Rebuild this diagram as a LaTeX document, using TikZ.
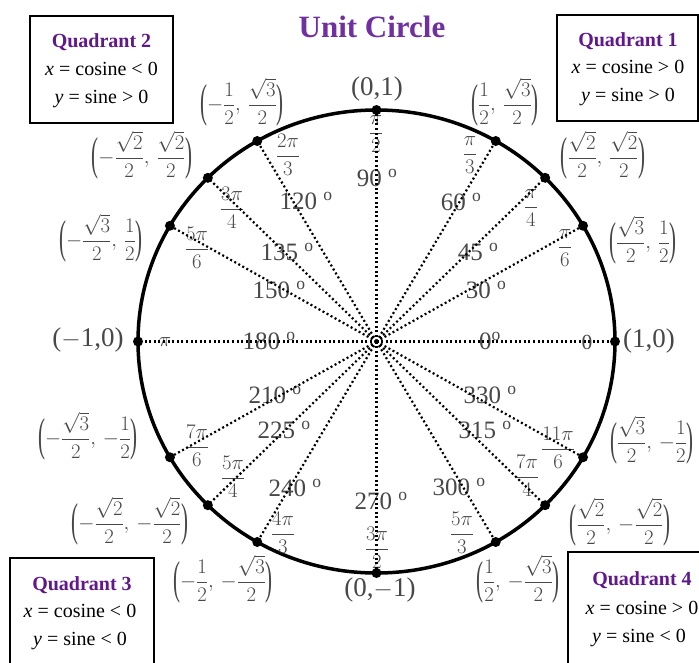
\documentclass[tikz,border=0pt]{standalone}
\usepackage{amsmath}
\usepackage{graphicx}
\usepackage{fontspec}
\setmainfont{Liberation Serif}
\definecolor{labgray}{RGB}{72,72,72}
\definecolor{titlepurple}{RGB}{112,48,160}
\definecolor{quadpurple}{RGB}{96,24,140}
\newcommand\tallparL{\mathopen{\vcenter{\hbox{\scalebox{0.95}[2.1]{(}}}}}
\newcommand\tallparR{\mathclose{\vcenter{\hbox{\scalebox{0.95}[2.1]{)}}}}}
\newcommand\cpair[2]{$\displaystyle\tallparL#1,\,#2\tallparR$}
\begin{document}
\begin{tikzpicture}[x=1pt,y=-1pt,
  coordlbl/.style={text=labgray,font=\fontsize{22}{26}\selectfont,inner sep=0pt},
  coordbig/.style={text=labgray,font=\fontsize{27}{30}\selectfont,inner sep=0pt},
  deglbl/.style={text=labgray,font=\fontsize{25}{28}\selectfont,inner sep=0pt},
  radlbl/.style={text=labgray,font=\fontsize{21.5}{24}\selectfont,inner sep=0pt},
  ptdot/.style={circle,fill=black,inner sep=0pt,minimum size=10pt},
  ray/.style={line width=2.2pt,dash pattern=on 2pt off 2.6pt},
  qbox/.style={line width=1.8pt},
  qtitle/.style={text=quadpurple,font=\fontsize{20}{24}\selectfont\bfseries,anchor=base,inner sep=0pt},
  qtext/.style={text=black,font=\fontsize{20}{24}\selectfont,anchor=base,inner sep=0pt}]
\useasboundingbox (0,0) rectangle (699,662);
\fill[white] (0,0) rectangle (699,662);

% title
\node[text=titlepurple,font=\fontsize{31}{36}\selectfont\bfseries,anchor=base,inner sep=0pt] (title) at (372,37) {Unit Circle};

% circle
\coordinate (O) at (376.5,341.5);
\draw[line width=3.5pt] (O) ellipse [x radius=238.5pt, y radius=231.5pt];

% coordinate labels
\node[coordbig] (c90) at (377,89) {(0,1)};
\node[coordlbl] (c60) at (505,102) {\cpair{\frac{1}{2}}{\frac{\sqrt{3}}{2}}};
\node[coordlbl] (c45) at (603,155) {\cpair{\frac{\sqrt{2}}{2}}{\frac{\sqrt{2}}{2}}};
\node[coordlbl] (c30) at (643,240) {\cpair{\frac{\sqrt{3}}{2}}{\frac{1}{2}}};
\node[coordbig] (c0) at (649,341) {(1,0)};
\node[coordlbl] (c330) at (652,440) {\cpair{\frac{\sqrt{3}}{2}}{-\frac{1}{2}}};
\node[coordlbl] (c315) at (620,522) {\cpair{\frac{\sqrt{2}}{2}}{-\frac{\sqrt{2}}{2}}};
\node[coordlbl] (c300) at (518,579) {\cpair{\frac{1}{2}}{-\frac{\sqrt{3}}{2}}};
\node[coordbig] (c270) at (380,590) {(0,$-$1)};
\node[coordlbl] (c240) at (223,579) {\cpair{-\frac{1}{2}}{-\frac{\sqrt{3}}{2}}};
\node[coordlbl] (c225) at (130,521) {\cpair{-\frac{\sqrt{2}}{2}}{-\frac{\sqrt{2}}{2}}};
\node[coordlbl] (c210) at (88,436) {\cpair{-\frac{\sqrt{3}}{2}}{-\frac{1}{2}}};
\node[coordbig] (c180) at (88,340) {($-$1,0)};
\node[coordlbl] (c150) at (101,238) {\cpair{-\frac{\sqrt{3}}{2}}{\frac{1}{2}}};
\node[coordlbl] (c135) at (142,155) {\cpair{-\frac{\sqrt{2}}{2}}{\frac{\sqrt{2}}{2}}};
\node[coordlbl] (c120) at (242,102) {\cpair{-\frac{1}{2}}{\frac{\sqrt{3}}{2}}};

% degree labels
\node[deglbl] (d0) at (490,341) {0$^{\mathrm{o}}$};
\node[deglbl] (d30) at (486,290) {30 $^{\mathrm{o}}$};
\node[deglbl] (d45) at (478,252) {45 $^{\mathrm{o}}$};
\node[deglbl] (d60) at (461,202) {60 $^{\mathrm{o}}$};
\node[deglbl] (d90) at (377,178) {90 $^{\mathrm{o}}$};
\node[deglbl] (d120) at (306,201) {120 $^{\mathrm{o}}$};
\node[deglbl] (d135) at (287,252) {135 $^{\mathrm{o}}$};
\node[deglbl] (d150) at (279,290) {150 $^{\mathrm{o}}$};
\node[deglbl] (d180) at (269,341) {180 $^{\mathrm{o}}$};
\node[deglbl] (d210) at (275,395) {210 $^{\mathrm{o}}$};
\node[deglbl] (d225) at (284,430) {225 $^{\mathrm{o}}$};
\node[deglbl] (d240) at (295,488) {240 $^{\mathrm{o}}$};
\node[deglbl] (d270) at (381,501) {270 $^{\mathrm{o}}$};
\node[deglbl] (d300) at (459,487) {300 $^{\mathrm{o}}$};
\node[deglbl] (d315) at (485,430) {315 $^{\mathrm{o}}$};
\node[deglbl] (d330) at (490,395) {330 $^{\mathrm{o}}$};

% radian labels
\node[radlbl] (r0) at (587,342) {0};
\node[radlbl] (r30) at (565,248) {$\displaystyle\frac{\pi}{6}$};
\node[radlbl] (r45) at (531,208) {$\displaystyle\frac{\pi}{4}$};
\node[radlbl] (r60) at (470,155) {$\displaystyle\frac{\pi}{3}$};
\node[radlbl] (r90) at (376,134) {$\displaystyle\frac{\pi}{2}$};
\node[radlbl] (r120) at (288,155) {$\displaystyle\frac{2\pi}{3}$};
\node[radlbl] (r135) at (232,208) {$\displaystyle\frac{3\pi}{4}$};
\node[radlbl] (r150) at (197,248) {$\displaystyle\frac{5\pi}{6}$};
\node[radlbl] (r180) at (165,342) {$\pi$};
\node[radlbl] (r210) at (197,446) {$\displaystyle\frac{7\pi}{6}$};
\node[radlbl] (r225) at (233,477) {$\displaystyle\frac{5\pi}{4}$};
\node[radlbl] (r240) at (283,533) {$\displaystyle\frac{4\pi}{3}$};
\node[radlbl] (r270) at (377,548) {$\displaystyle\frac{3\pi}{2}$};
\node[radlbl] (r300) at (462,533) {$\displaystyle\frac{5\pi}{3}$};
\node[radlbl] (r315) at (527,476) {$\displaystyle\frac{7\pi}{4}$};
\node[radlbl] (r330) at (558,448) {$\displaystyle\frac{11\pi}{6}$};

% rays and points
\foreach \a in {0,30,45,60,90,120,135,150,180,210,225,240,270,300,315,330} {
  \coordinate (q\a) at ({376.5+238.5*cos(\a)},{341.5-231.5*sin(\a)});
  \draw[ray] (O) -- (q\a);
}
\foreach \a in {0,30,45,60,90,120,135,150,180,210,225,240,270,300,315,330} {
  \node[ptdot] (p\a) at (q\a) {};
}

% quadrant boxes
\draw[qbox] (557,15) rectangle (698,121);
\node[qtitle] (q1a) at (628,46) {Quadrant 1};
\node[qtext] (q1b) at (628,73) {\textit{x} = cosine > 0};
\node[qtext] (q1c) at (628,101) {\textit{y} = sine > 0};

\draw[qbox] (30,16) rectangle (173,123);
\node[qtitle] (q2a) at (101.5,47) {Quadrant 2};
\node[qtext] (q2b) at (101.5,75) {\textit{x} = cosine < 0};
\node[qtext] (q2c) at (101.5,103) {\textit{y} = sine > 0};

\draw[qbox] (10,665) -- (10,558) -- (154,558) -- (154,665);
\node[qtitle] (q3a) at (82,590) {Quadrant 3};
\node[qtext] (q3b) at (80,617) {\textit{x} = cosine < 0};
\node[qtext] (q3c) at (80,645) {\textit{y} = sine < 0};

\draw[qbox] (568,665) -- (568,552) -- (702,552);
\node[qtitle] (q4a) at (642,585) {Quadrant 4};
\node[qtext] (q4b) at (642,614) {\textit{x} = cosine > 0};
\node[qtext] (q4c) at (639,642) {\textit{y} = sine < 0};
\end{tikzpicture}
\end{document}
